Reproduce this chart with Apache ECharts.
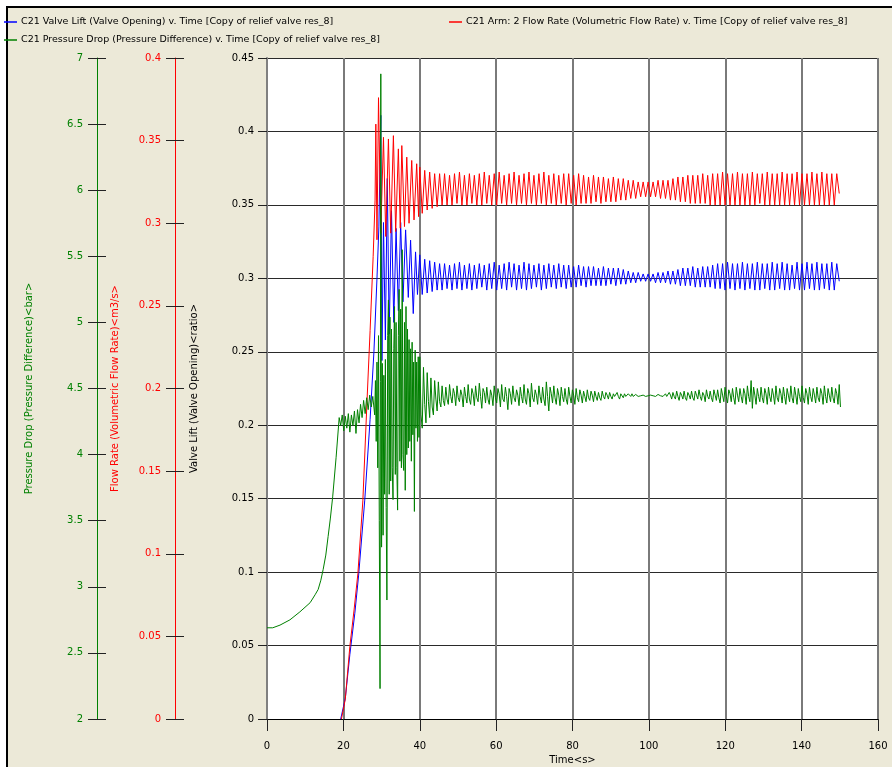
<!DOCTYPE html>
<html>
<head>
<meta charset="utf-8">
<title>relief valve res_8</title>
<script src="https://cdn.jsdelivr.net/npm/echarts@6/dist/echarts.min.js"></script>
<style>
html,body{margin:0;padding:0;background:#fff;}
#chart{width:892px;height:767px;}
</style>
</head>
<body>
<div id="chart"></div>
<script>
var NAME_LIFT = 'C21 Valve Lift (Valve Opening) v. Time [Copy of relief valve res_8]';
var NAME_FLOW = 'C21 Arm: 2 Flow Rate (Volumetric Flow Rate) v. Time [Copy of relief valve res_8]';
var NAME_PDROP = 'C21 Pressure Drop (Pressure Difference) v. Time [Copy of relief valve res_8]';

// start-up part, read point by point (time in s)
var liftT = [19.3,20.5,21.7,23.0,24.0,25.6,27.0,28.0,28.8,29.3,29.8,30.1,30.5,31.0,31.5,32.0,32.6,33.2,33.8,34.4,35.0,35.6,36.3,37.0,37.6,38.3,38.9,39.4];
var liftV = [0,0.014,0.044,0.072,0.098,0.149,0.204,0.250,0.300,0.335,0.411,0.244,0.338,0.258,0.368,0.262,0.346,0.270,0.334,0.278,0.338,0.284,0.333,0.287,0.326,0.276,0.318,0.289];

var flowT = [19.5,20.5,21.7,22.8,23.8,25.1,26.2,27.0,27.8,28.3,28.5,28.8,29.2,29.8,30.5,31.1,31.8,32.4,33.1,33.7,34.4,34.9,35.3,36.0,36.6,37.2,37.9,38.5,39.2,39.7];
var flowV = [0,0.012,0.044,0.066,0.088,0.132,0.193,0.235,0.280,0.314,0.360,0.290,0.376,0.294,0.352,0.292,0.351,0.294,0.353,0.295,0.345,0.297,0.347,0.298,0.340,0.300,0.338,0.302,0.336,0.304];

var pdropT = [0,1.5,3.4,6,8.6,11.3,12.6,13.4,14.1,14.7,15.4,16,16.6,17.2,18.1,18.9,
  19.3,19.7,20.1,20.5,20.9,21.3,21.7,22.1,22.5,22.9,23.3,23.7,24.1,24.5,24.9,25.3,25.7,26.1,26.5,26.9,27.3,27.7,
  28.0,28.2,28.4,28.6,28.8,29.0,29.2,29.4,29.6,29.8,30.0,30.2,30.4,30.6,30.8,31.0,31.2,31.4,31.6,31.8,32.0,32.2,32.4,32.6,32.8,33.0,
  33.2,33.4,33.6,33.8,34.0,34.2,34.4,34.6,34.8,35.0,35.2,35.4,35.6,35.8,36.0,36.2,36.4,36.6,36.8,37.0,37.2,37.4,37.6,37.8,
  38.0,38.2,38.4,38.6,38.8,39.0,39.2,39.4,39.6,39.8];
var pdropV = [2.69,2.69,2.71,2.75,2.81,2.88,2.94,2.98,3.05,3.13,3.24,3.38,3.52,3.68,3.98,4.28,
  4.22,4.30,4.18,4.29,4.20,4.31,4.17,4.30,4.22,4.33,4.16,4.34,4.24,4.38,4.28,4.41,4.31,4.43,4.34,4.45,4.36,4.44,
  4.44,4.30,4.56,4.10,4.70,3.90,4.90,3.50,2.23,6.88,3.30,4.69,3.39,4.60,3.70,4.72,3.60,2.90,4.90,5.17,3.70,5.04,3.80,4.95,3.90,3.66,
  4.80,5.12,3.85,5.00,3.90,3.58,4.90,5.25,3.95,5.10,3.90,5.55,4.00,3.88,5.00,3.73,5.12,4.00,4.95,4.05,4.87,4.10,4.80,3.95,
  4.85,4.15,4.70,3.57,4.79,4.20,4.70,4.10,4.74,4.13];

// settled oscillation from 40 s: valve lift and flow read every half cycle
var OSC_T0 = 40;
var OSC_DT = 0.65;
var liftOsc = [
  0.316,0.289,0.313,0.290,0.312,0.291,0.311,0.292,0.310,0.292,
  0.310,0.293,0.309,0.292,0.310,0.293,0.311,0.292,0.309,0.293,
  0.310,0.292,0.309,0.293,0.310,0.294,0.309,0.292,0.310,0.293,
  0.311,0.292,0.309,0.293,0.310,0.292,0.311,0.294,0.310,0.292,
  0.309,0.293,0.311,0.292,0.310,0.293,0.309,0.294,0.310,0.292,
  0.309,0.293,0.310,0.294,0.309,0.293,0.310,0.294,0.309,0.293,
  0.309,0.294,0.308,0.294,0.309,0.295,0.308,0.294,0.308,0.295,
  0.308,0.295,0.307,0.295,0.308,0.295,0.307,0.296,0.307,0.295,
  0.307,0.296,0.306,0.296,0.305,0.297,0.304,0.297,0.304,0.298,
  0.303,0.298,0.303,0.298,0.303,0.297,0.304,0.297,0.304,0.297,
  0.305,0.296,0.305,0.296,0.306,0.295,0.307,0.295,0.307,0.295,
  0.308,0.294,0.307,0.294,0.308,0.294,0.308,0.294,0.309,0.293,
  0.310,0.293,0.310,0.292,0.311,0.293,0.310,0.292,0.310,0.293,
  0.311,0.292,0.310,0.293,0.310,0.292,0.311,0.292,0.310,0.293,
  0.310,0.292,0.311,0.292,0.310,0.293,0.311,0.292,0.310,0.292,
  0.309,0.293,0.311,0.292,0.310,0.292,0.311,0.293,0.310,0.292,
  0.311,0.292,0.310,0.293,0.310,0.292,0.311,0.292,0.310,0.298
];
var flowOsc = [
  0.334,0.306,0.332,0.308,0.331,0.309,0.330,0.310,0.330,0.311,
  0.330,0.311,0.329,0.311,0.330,0.312,0.331,0.311,0.329,0.311,
  0.330,0.312,0.329,0.311,0.330,0.311,0.331,0.312,0.329,0.311,
  0.330,0.311,0.331,0.312,0.329,0.311,0.330,0.312,0.331,0.311,
  0.329,0.312,0.330,0.311,0.331,0.312,0.329,0.311,0.330,0.312,
  0.331,0.311,0.329,0.312,0.330,0.311,0.329,0.312,0.330,0.311,
  0.330,0.312,0.329,0.311,0.330,0.312,0.329,0.312,0.328,0.312,
  0.329,0.313,0.328,0.312,0.328,0.313,0.327,0.313,0.328,0.313,
  0.327,0.314,0.327,0.314,0.326,0.315,0.326,0.315,0.325,0.316,
  0.325,0.316,0.325,0.316,0.325,0.316,0.326,0.315,0.326,0.315,
  0.326,0.314,0.327,0.314,0.328,0.313,0.328,0.313,0.329,0.312,
  0.329,0.312,0.329,0.312,0.330,0.312,0.329,0.311,0.330,0.311,
  0.330,0.311,0.331,0.311,0.330,0.311,0.330,0.311,0.331,0.311,
  0.330,0.311,0.330,0.311,0.331,0.311,0.330,0.312,0.330,0.311,
  0.331,0.311,0.330,0.311,0.330,0.311,0.331,0.311,0.330,0.311,
  0.330,0.311,0.331,0.311,0.330,0.311,0.330,0.311,0.331,0.311,
  0.330,0.311,0.331,0.311,0.330,0.311,0.330,0.311,0.330,0.318
];
// pressure drop noise, read twice as often
var PD_DT = 0.325;
var pdropOsc = [
  4.74,4.30,4.20,4.66,4.38,4.24,4.62,4.40,4.28,4.58,4.36,4.30,4.56,4.42,4.33,4.55,4.40,4.36,4.52,4.41,
  4.37,4.51,4.42,4.38,4.53,4.44,4.39,4.50,4.46,4.37,4.52,4.43,4.40,4.49,4.45,4.36,4.51,4.44,4.39,4.53,
  4.42,4.38,4.50,4.46,4.37,4.52,4.43,4.40,4.54,4.44,4.35,4.50,4.47,4.39,4.51,4.42,4.38,4.49,4.45,4.37,
  4.52,4.43,4.39,4.50,4.46,4.36,4.53,4.42,4.40,4.51,4.44,4.34,4.50,4.46,4.38,4.52,4.43,4.40,4.49,4.45,
  4.37,4.51,4.44,4.39,4.53,4.42,4.38,4.50,4.46,4.36,4.54,4.43,4.40,4.49,4.45,4.38,4.52,4.44,4.39,4.51,
  4.42,4.37,4.55,4.44,4.33,4.51,4.46,4.39,4.52,4.43,4.38,4.50,4.45,4.37,4.51,4.44,4.40,4.50,4.42,4.38,
  4.51,4.44,4.39,4.49,4.45,4.38,4.50,4.43,4.40,4.49,4.45,4.39,4.48,4.44,4.40,4.49,4.43,4.41,4.48,4.45,
  4.40,4.48,4.44,4.41,4.47,4.43,4.41,4.48,4.44,4.42,4.47,4.45,4.42,4.47,4.44,4.42,4.46,4.44,4.43,4.47,
  4.44,4.42,4.46,4.45,4.43,4.46,4.44,4.43,4.46,4.45,4.44,4.46,4.44,4.43,4.455,4.445,4.44,4.455,4.445,4.44,
  4.45,4.445,4.44,4.45,4.445,4.44,4.45,4.44,4.445,4.45,4.44,4.445,4.455,4.44,4.445,4.455,4.44,4.43,4.46,4.44,
  4.43,4.47,4.45,4.42,4.47,4.44,4.42,4.48,4.44,4.41,4.47,4.45,4.42,4.48,4.43,4.41,4.47,4.45,4.42,4.48,
  4.43,4.41,4.48,4.45,4.42,4.49,4.44,4.41,4.47,4.45,4.40,4.49,4.44,4.42,4.48,4.43,4.40,4.49,4.45,4.41,
  4.49,4.43,4.39,4.50,4.45,4.40,4.51,4.44,4.39,4.49,4.46,4.40,4.50,4.43,4.38,4.51,4.45,4.40,4.50,4.44,
  4.39,4.50,4.46,4.38,4.52,4.44,4.40,4.56,4.35,4.51,4.45,4.38,4.50,4.44,4.40,4.51,4.43,4.39,4.50,4.46,
  4.38,4.51,4.44,4.40,4.50,4.45,4.38,4.52,4.43,4.40,4.50,4.46,4.39,4.51,4.44,4.38,4.50,4.45,4.40,4.52,
  4.43,4.39,4.51,4.45,4.38,4.50,4.44,4.40,4.52,4.43,4.39,4.50,4.46,4.38,4.51,4.44,4.40,4.50,4.45,4.39,
  4.51,4.43,4.40,4.50,4.46,4.38,4.52,4.44,4.39,4.50,4.45,4.40,4.51,4.43,4.39,4.50,4.46,4.38,4.53,4.36
];

var FONT = 'DejaVu Sans';
var GREEN = '#008000';

function joinData(ts, vs, osc, dt) {
  var out = [];
  for (var i = 0; i < ts.length; i++) out.push([ts[i], vs[i]]);
  for (var j = 0; j < osc.length; j++) out.push([OSC_T0 + j * dt, osc[j]]);
  return out;
}

var chart = echarts.init(document.getElementById('chart'));

function sideAxis(min, max, step, offset, color, name, gap) {
  return {
    type: 'value', position: 'left', offset: offset,
    min: min, max: max, interval: step,
    name: name, nameLocation: 'middle', nameGap: gap,
    nameTextStyle: {color: color, fontFamily: FONT, fontSize: 10},
    axisLine: {show: true, lineStyle: {color: color, width: 1}},
    axisTick: {show: true, length: 9, lineStyle: {color: '#222'}},
    axisLabel: {color: color, fontFamily: FONT, fontSize: 10, margin: 14},
    splitLine: {show: false}
  };
}
// second half of the crossing tick marks
function innerTicks(min, max, step, offset) {
  return {
    type: 'value', position: 'left', offset: offset,
    min: min, max: max, interval: step,
    axisLine: {show: false},
    axisTick: {show: true, inside: true, length: 9, lineStyle: {color: '#222'}},
    axisLabel: {show: false},
    splitLine: {show: false}
  };
}

var option = {
  animation: false,
  backgroundColor: '#fff',
  textStyle: {fontFamily: FONT},
  graphic: {
    elements: [{
      type: 'rect', z: -10, silent: true,
      shape: {x: 7, y: 7, width: 900, height: 800},
      style: {fill: '#ECE9D8', stroke: '#000', lineWidth: 2}
    }]
  },
  legend: [
    {data: [NAME_LIFT], left: 4, top: 17},
    {data: [NAME_FLOW], left: 449, top: 17},
    {data: [NAME_PDROP], left: 4, top: 35}
  ].map(function (l) {
    l.icon = 'rect'; l.itemWidth = 13; l.itemHeight = 1.5;
    l.selectedMode = false; l.padding = 0; l.itemGap = 0;
    l.textStyle = {color: '#000', fontFamily: FONT, fontSize: 9.5, padding: [0, 0, 0, -1]};
    return l;
  }),
  grid: {
    left: 267, right: 14, top: 58, bottom: 48,
    outerBoundsMode: 'none', containLabel: false,
    show: true, backgroundColor: '#fff', borderWidth: 0
  },
  xAxis: {
    type: 'value', min: 0, max: 160, interval: 20,
    name: 'Time<s>', nameLocation: 'middle', nameGap: 28,
    nameTextStyle: {color: '#000', fontFamily: FONT, fontSize: 10},
    axisLine: {show: true, onZero: false, lineStyle: {color: '#000', width: 1}},
    axisTick: {show: true, length: 12, lineStyle: {color: '#222'}},
    axisLabel: {color: '#000', fontFamily: FONT, fontSize: 10, margin: 22},
    splitLine: {show: true, lineStyle: {color: '#7a7a7a', width: 2}}
  },
  yAxis: [
    {
      type: 'value', position: 'left', offset: 0,
      min: 0, max: 0.45, interval: 0.05,
      name: 'Valve Lift (Valve Opening)<ratio>', nameLocation: 'middle', nameGap: 68,
      nameTextStyle: {color: '#000', fontFamily: FONT, fontSize: 10},
      axisLine: {show: true, lineStyle: {color: '#808080', width: 2}},
      axisTick: {show: true, length: 9, lineStyle: {color: '#222'}},
      axisLabel: {color: '#000', fontFamily: FONT, fontSize: 10, margin: 13},
      splitLine: {show: true, lineStyle: {color: '#2a2a2a', width: 1}}
    },
    sideAxis(0, 0.4, 0.05, 92, '#ff0000', 'Flow Rate (Volumetric Flow Rate)<m3/s>', 55),
    sideAxis(2, 7, 0.5, 170, GREEN, 'Pressure Drop (Pressure Difference)<bar>', 63),
    innerTicks(0, 0.4, 0.05, 92),
    innerTicks(2, 7, 0.5, 170)
  ],
  series: [
    {
      name: NAME_LIFT, type: 'line', yAxisIndex: 0, showSymbol: false,
      data: joinData(liftT, liftV, liftOsc, OSC_DT),
      lineStyle: {color: '#0000ff', width: 1}, itemStyle: {color: '#0000ff'}
    },
    {
      name: NAME_FLOW, type: 'line', yAxisIndex: 1, showSymbol: false,
      data: joinData(flowT, flowV, flowOsc, OSC_DT),
      lineStyle: {color: '#ff0000', width: 1}, itemStyle: {color: '#ff0000'}
    },
    {
      name: NAME_PDROP, type: 'line', yAxisIndex: 2, showSymbol: false,
      data: joinData(pdropT, pdropV, pdropOsc, PD_DT),
      lineStyle: {color: GREEN, width: 1}, itemStyle: {color: GREEN}
    }
  ]
};
chart.setOption(option);
</script>
</body>
</html>
